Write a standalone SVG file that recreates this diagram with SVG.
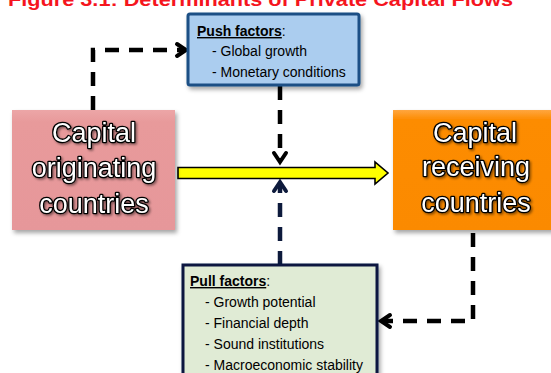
<svg xmlns="http://www.w3.org/2000/svg" width="551" height="373" viewBox="0 0 551 373">
  <defs>
    <filter id="shadow" x="-10%" y="-10%" width="130%" height="130%">
      <feDropShadow dx="2" dy="3" stdDeviation="2" flood-color="#000" flood-opacity="0.35"/>
    </filter>
    <filter id="txtshadow" x="-10%" y="-10%" width="130%" height="130%">
      <feDropShadow dx="1.5" dy="1.5" stdDeviation="1" flood-color="#000" flood-opacity="0.45"/>
    </filter>
    <linearGradient id="pinkFill" x1="0" y1="0" x2="0" y2="1">
      <stop offset="0" stop-color="#eca6a7"/>
      <stop offset="0.1" stop-color="#e89a9b"/>
      <stop offset="1" stop-color="#e6979a"/>
    </linearGradient>
    <linearGradient id="orangeFill" x1="0" y1="0" x2="0" y2="1">
      <stop offset="0" stop-color="#ffa640"/>
      <stop offset="0.08" stop-color="#fd8c00"/>
      <stop offset="1" stop-color="#fb8a00"/>
    </linearGradient>
  </defs>
  <style>
    .title { font-family: "Liberation Sans", Arial, sans-serif; font-weight: bold; font-size: 18px; fill: #f5151e; }
    .big { font-family: "Liberation Sans", Arial, sans-serif; font-size: 27px; fill: #ffffff; stroke: #000000; stroke-width: 2.6; paint-order: stroke; stroke-linejoin: round; text-anchor: middle; }
    .small { font-family: "Liberation Sans", Arial, sans-serif; font-size: 14px; fill: #000000; }
    .head { font-weight: bold; text-decoration: underline; }
    .dash { fill: none; stroke-width: 4.5; stroke-dasharray: 14 10; }
    .chev { fill: none; stroke-width: 4; stroke-linecap: round; stroke-linejoin: miter; }
    .blk { stroke: #000000; }
    .navy { stroke: #0d1a3c; }
  </style>

  <!-- clipped heading along the top edge -->
  <text class="title" x="8" y="6" textLength="505" lengthAdjust="spacingAndGlyphs">Figure 3.1: Determinants of Private Capital Flows</text>

  <!-- connectors -->
  <g id="connectors">
    <!-- originating -> push factors -->
    <path class="dash blk" d="M93,110 V50 H183" stroke-dasharray="14 10" stroke-dashoffset="0"/>
    <path class="chev blk" d="M177,44 L186,50 L177,56"/>
    <!-- push factors -> main flow -->
    <path class="dash blk" d="M280,86 V160"/>
    <path class="chev blk" d="M274,153 L280,162 L286,153"/>
    <!-- pull factors -> main flow -->
    <path class="dash navy" d="M280,265 V185"/>
    <path class="chev navy" d="M274,191 L280,182 L286,191"/>
    <!-- receiving -> pull factors -->
    <path class="dash blk" d="M473,233 V321 H384"/>
    <path class="chev blk" d="M390,315 L381,321 L390,327"/>
    <!-- main capital flow arrow -->
    <path id="flow" d="M178,167.5 H375 V162 L388,173 L375,184 V178.5 H178 Z" fill="#ffff00" stroke="#000000" stroke-width="1.6" stroke-linejoin="miter"/>
  </g>

  <g id="push-factors">
    <rect x="188" y="14" width="171" height="71" rx="2" fill="#abcdef" stroke="#1c4f85" stroke-width="3" filter="url(#shadow)"/>
    <text class="small" x="197" y="36"><tspan class="head">Push factors</tspan>:</text>
    <text class="small" x="212" y="56">- Global growth</text>
    <text class="small" x="212" y="77">- Monetary conditions</text>
  </g>

  <g id="capital-originating">
    <rect x="12" y="110" width="163" height="120" fill="url(#pinkFill)" filter="url(#shadow)"/>
    <g filter="url(#txtshadow)">
      <text class="big" x="94" y="142">Capital</text>
      <text class="big" x="94" y="177">originating</text>
      <text class="big" x="94" y="213">countries</text>
    </g>
  </g>

  <g id="capital-receiving">
    <rect x="393" y="110" width="170" height="120" fill="url(#orangeFill)" filter="url(#shadow)"/>
    <g filter="url(#txtshadow)">
      <text class="big" x="475" y="142">Capital</text>
      <text class="big" x="476" y="176">receiving</text>
      <text class="big" x="476" y="212">countries</text>
    </g>
  </g>

  <g id="pull-factors">
    <rect x="183" y="265" width="194" height="120" fill="#e0ebd5" stroke="#0c1840" stroke-width="3" filter="url(#shadow)"/>
    <text class="small" x="190" y="286"><tspan class="head">Pull factors</tspan>:</text>
    <text class="small" x="205" y="307">- Growth potential</text>
    <text class="small" x="205" y="328">- Financial depth</text>
    <text class="small" x="205" y="349">- Sound institutions</text>
    <text class="small" x="205" y="370">- Macroeconomic stability</text>
  </g>
</svg>
